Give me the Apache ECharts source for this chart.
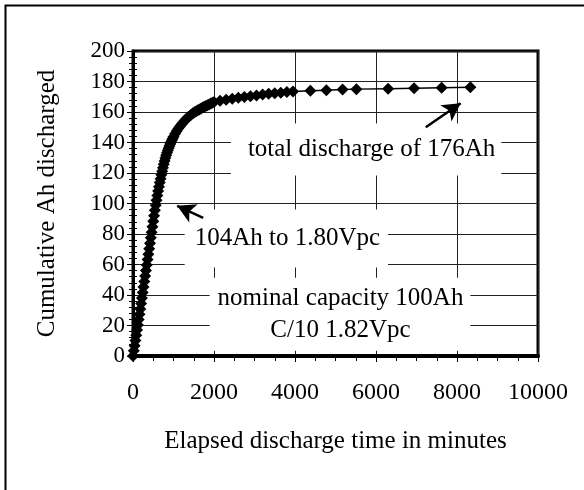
<!DOCTYPE html>
<html>
<head>
<meta charset="utf-8">
<script src="https://cdn.jsdelivr.net/npm/echarts@6/dist/echarts.min.js"></script>
<style>
  html, body { margin: 0; padding: 0; background: #fff; }
  #chart { width: 584px; height: 490px; }
</style>
</head>
<body>
<div id="chart"></div>
<script>
// elapsed time (minutes) and cumulative Ah
const minutes = [
  0, 20, 40, 60, 80, 100, 120, 140, 160, 180, 200, 220, 240, 260, 280, 300,
  320, 340, 360, 380, 400, 420, 440, 460, 480, 500, 520, 540, 560, 580, 600,
  620, 640, 660, 680, 700, 720, 740, 760, 780, 800, 820, 840, 860, 880, 900,
  920, 940, 960, 980, 1000,
  1040, 1080, 1120, 1160, 1200, 1240, 1280, 1320, 1360, 1400, 1440, 1480,
  1520, 1560, 1600, 1640, 1680, 1720, 1760, 1800, 1840, 1880, 1920, 1960, 2000,
  2150, 2300, 2450, 2600, 2750, 2900, 3050, 3200, 3350, 3500, 3650, 3800, 3950,
  4380, 4775, 5175, 5515, 6300, 6940, 7620, 8330
];
const ahDischarged = [
  0, 3.4, 6.8, 10.2, 13.6, 17.0, 20.4, 23.9, 27.4, 30.9, 34.4, 38.0, 41.6, 45.2, 48.8, 52.4,
  56.0, 59.6, 63.2, 66.8, 70.4, 74.0, 77.6, 81.2, 84.8, 88.4, 92.0, 95.5, 98.9, 102.2, 105.3,
  108.2, 111.0, 113.7, 116.3, 118.8, 121.2, 123.5, 125.7, 127.8, 129.8, 131.6, 133.2, 134.8, 136.3, 137.7,
  139.0, 140.3, 141.5, 142.7, 143.8,
  145.8, 147.6, 149.2, 150.7, 152.0, 153.3, 154.4, 155.5, 156.5, 157.4, 158.3, 159.1,
  159.8, 160.5, 161.1, 161.7, 162.3, 162.9, 163.5, 164.0, 164.5, 165.0, 165.5, 166.0, 166.5,
  167.3, 168.0, 168.7, 169.3, 169.9, 170.4, 170.9, 171.4, 171.9, 172.3, 172.7, 173.1, 173.4,
  173.9, 174.3, 174.7, 175.0, 175.3, 175.6, 175.9, 176.2
];
const xTicks = { min: 0, max: 10000, step: 2000 };
const yTicks = { min: 0, max: 200, step: 20 };

// annotation texts, anchored in data space
const notes = [
  { text: 'total discharge of 176Ah', at: [5755, 135.4], pad: [10, 6, 10, 17] },
  { text: '104Ah to 1.80Vpc', at: [3787, 77.0], pad: [13, 8, 13, 10] },
  { text: 'nominal capacity 100Ah\nC/10 1.82Vpc', at: [5111, 27.4], pad: [5, 7, 4, 8] }
];
const arrows = [
  [[7228, 150.0], [8090, 165.8]],
  [[1733, 90.5], [1090, 98.5]]
];

const serif = 'Liberation Serif, Times New Roman, serif';
const chart = echarts.init(document.getElementById('chart'));

const option = {
  animation: false,
  backgroundColor: '#fff',
  textStyle: { fontFamily: serif, color: '#000' },
  grid: {
    left: 133,
    right: 46,
    top: 51,
    bottom: 134,
    show: true,
    borderColor: '#000',
    borderWidth: 3
  },
  graphic: [
    {
      // outer frame of the figure (left and top edges only)
      type: 'polyline',
      shape: { points: [[5.5, 490], [5.5, 5.5], [584, 5.5]] },
      style: { stroke: '#000', lineWidth: 2, fill: null }
    }
  ],
  xAxis: {
    type: 'value',
    min: xTicks.min,
    max: xTicks.max,
    interval: xTicks.step,
    name: 'Elapsed discharge time in minutes',
    nameLocation: 'middle',
    nameGap: 73,
    nameTextStyle: { fontFamily: serif, fontSize: 25, color: '#000' },
    axisLine: { show: true, lineStyle: { color: '#000', width: 4 } },
    axisTick: { show: true, length: 6, lineStyle: { color: '#000', width: 1 } },
    minorTick: { show: true, splitNumber: 4, length: 5, lineStyle: { color: '#000', width: 1 } },
    axisLabel: {
      fontFamily: serif,
      fontSize: 24,
      color: '#000',
      margin: 25,
      formatter: (v) => String(v)
    },
    splitLine: { show: true, lineStyle: { color: '#222', width: 1 } }
  },
  yAxis: [
    {
      type: 'value',
      min: yTicks.min,
      max: yTicks.max,
      interval: yTicks.step,
      name: 'Cumulative Ah discharged',
      nameLocation: 'middle',
      nameGap: 73,
      nameTextStyle: { fontFamily: serif, fontSize: 25, color: '#000' },
      axisLine: { show: true, lineStyle: { color: '#000', width: 3 } },
      axisTick: { show: true, length: 6, lineStyle: { color: '#000', width: 1 } },
      minorTick: { show: true, splitNumber: 5, length: 4, lineStyle: { color: '#000', width: 1 } },
      axisLabel: { fontFamily: serif, fontSize: 23, color: '#000', margin: 8 },
      splitLine: { show: true, lineStyle: { color: '#222', width: 1 } }
    },
    {
      // same scale again, only to make the minor ticks cross the axis
      type: 'value',
      position: 'left',
      min: yTicks.min,
      max: yTicks.max,
      interval: yTicks.step,
      axisLine: { show: false },
      axisLabel: { show: false },
      splitLine: { show: false },
      axisTick: { show: true, inside: true, length: 4, lineStyle: { color: '#000', width: 1 } },
      minorTick: { show: true, splitNumber: 5, length: 4, lineStyle: { color: '#000', width: 1 } }
    }
  ],
  series: [
    {
      name: 'Cumulative Ah',
      type: 'line',
      yAxisIndex: 0,
      data: minutes.map((m, i) => [m, ahDischarged[i]]),
      symbol: 'diamond',
      symbolSize: 12,
      itemStyle: { color: '#000' },
      lineStyle: { color: '#000', width: 1.5 },
      z: 3,
      markPoint: {
        symbol: 'circle',
        symbolSize: 0,
        silent: true,
        z: 4,
        data: notes.map((n) => ({
          coord: n.at,
          label: {
            show: true,
            position: 'inside',
            formatter: n.text,
            fontFamily: serif,
            fontSize: 25,
            lineHeight: 32,
            color: '#000',
            align: 'center',
            backgroundColor: '#fff',
            padding: n.pad
          }
        }))
      }
    },
    {
      // arrows sit above the note boxes
      name: 'arrows',
      type: 'line',
      yAxisIndex: 0,
      data: [],
      z: 8,
      markLine: {
        silent: true,
        z: 8,
        symbol: ['none', 'arrow'],
        symbolSize: [15, 18],
        label: { show: false },
        lineStyle: { color: '#000', width: 2.5, type: 'solid' },
        data: arrows.map((a) => [{ coord: a[0] }, { coord: a[1] }])
      }
    }
  ]
};

chart.setOption(option);
</script>
</body>
</html>
